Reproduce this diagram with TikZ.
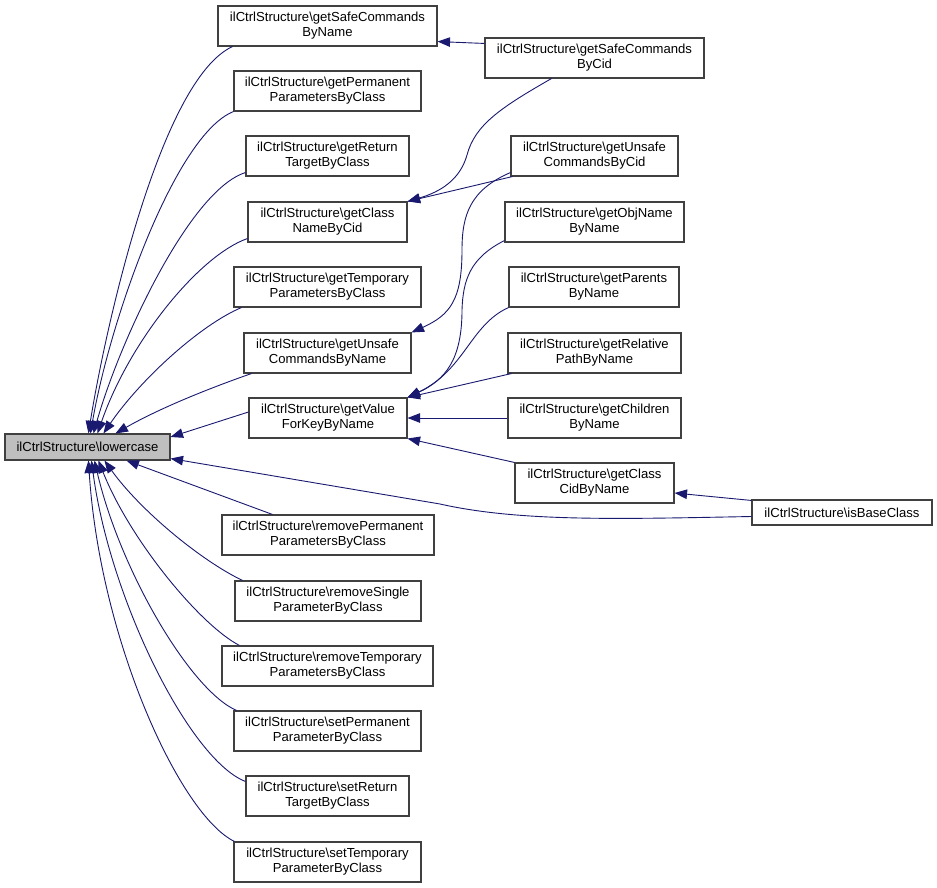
\documentclass[tikz,border=0pt]{standalone}
\usepackage{fontspec}
\setmainfont{Liberation Sans}
\usetikzlibrary{arrows.meta}
\definecolor{edgeblue}{HTML}{191970}
\definecolor{boxline}{HTML}{404040}
\definecolor{hlfill}{HTML}{BFBFBF}
\begin{document}
\begin{tikzpicture}[x=1pt,y=-1pt,
  box/.style={draw=boxline, line width=1.1pt, fill=white, rectangle, inner sep=0pt,
    align=center, minimum height=40pt, font=\fontsize{13.1pt}{15pt}\selectfont},
  onebox/.style={box, minimum height=26pt},
  edge/.style={draw=edgeblue, line width=0.9pt, -{Triangle[length=12.5pt,width=9.5pt]}, fill=none}]
\useasboundingbox (0,0) rectangle (937,888);
\fill[white] (0,0) rectangle (937,888);
% nodes
\node[onebox, fill=hlfill, minimum width=165pt, minimum height=26pt] (lc) at (87.5,447) {ilCtrlStructure\textbackslash lowercase};
\node[box, minimum width=219pt] (safeName) at (327.5,26) {ilCtrlStructure\textbackslash getSafeCommands\\ByName};
\node[box, minimum width=187pt] (permName) at (327.5,91) {ilCtrlStructure\textbackslash getPermanent\\ParametersByClass};
\node[box, minimum width=163pt] (retName) at (327.5,156) {ilCtrlStructure\textbackslash getReturn\\TargetByClass};
\node[box, minimum width=159pt] (classNameCid) at (327.5,222) {ilCtrlStructure\textbackslash getClass\\NameByCid};
\node[box, minimum width=187pt] (tempName) at (327.5,287) {ilCtrlStructure\textbackslash getTemporary\\ParametersByClass};
\node[box, minimum width=167pt] (unsafeName) at (327.5,353) {ilCtrlStructure\textbackslash getUnsafe\\CommandsByName};
\node[box, minimum width=158pt] (valueKey) at (328,418) {ilCtrlStructure\textbackslash getValue\\ForKeyByName};
\node[box, minimum width=212pt] (remPerm) at (328,535) {ilCtrlStructure\textbackslash removePermanent\\ParametersByClass};
\node[box, minimum width=186pt] (remSingle) at (328,601) {ilCtrlStructure\textbackslash removeSingle\\ParameterByClass};
\node[box, minimum width=211pt] (remTemp) at (327.5,666) {ilCtrlStructure\textbackslash removeTemporary\\ParametersByClass};
\node[box, minimum width=187pt] (setPerm) at (327.5,731) {ilCtrlStructure\textbackslash setPermanent\\ParameterByClass};
\node[box, minimum width=163pt] (setRet) at (327.5,796) {ilCtrlStructure\textbackslash setReturn\\TargetByClass};
\node[box, minimum width=187pt] (setTemp) at (327.5,862) {ilCtrlStructure\textbackslash setTemporary\\ParameterByClass};
\node[box, minimum width=219pt] (safeCid) at (594.5,58) {ilCtrlStructure\textbackslash getSafeCommands\\ByCid};
\node[box, minimum width=167pt] (unsafeCid) at (594.5,156) {ilCtrlStructure\textbackslash getUnsafe\\CommandsByCid};
\node[box, minimum width=179pt] (objName) at (594.5,222) {ilCtrlStructure\textbackslash getObjName\\ByName};
\node[box, minimum width=170pt] (parents) at (594,287) {ilCtrlStructure\textbackslash getParents\\ByName};
\node[box, minimum width=173pt] (relPath) at (594.5,353) {ilCtrlStructure\textbackslash getRelative\\PathByName};
\node[box, minimum width=173pt] (children) at (594.5,418) {ilCtrlStructure\textbackslash getChildren\\ByName};
\node[box, minimum width=159pt] (classCid) at (594.5,483) {ilCtrlStructure\textbackslash getClass\\CidByName};
\node[onebox, minimum width=180pt, minimum height=25pt] (isBase) at (842,512.5) {ilCtrlStructure\textbackslash isBaseClass};
% edges into lowercase (top)
\draw[edge] ([xshift=15pt]safeName.south west) .. controls (160,80) and (105,330) .. ([xshift=84pt]lc.north west);
\draw[edge] (permName.south west) .. controls (175,135) and (110,320) .. ([xshift=86pt]lc.north west);
\draw[edge] ([yshift=4pt]retName.south west) .. controls (190,190) and (120,340) .. ([xshift=89pt]lc.north west);
\draw[edge] ([yshift=4pt]classNameCid.south west) .. controls (200,255) and (130,340) .. ([xshift=93pt]lc.north west);
\draw[edge] ([xshift=8pt]tempName.south west) .. controls (200,325) and (140,380) .. ([xshift=99pt]lc.north west);
\draw[edge] ([xshift=8pt]unsafeName.south west) .. controls (210,388) and (160,408) .. ([xshift=111pt]lc.north west);
\draw[edge] ([yshift=6pt]valueKey.west) -- ([yshift=10pt]lc.east);
% edges into lowercase (bottom)
\draw[edge] ([xshift=51pt]remPerm.north west) -- ([xshift=122pt]lc.south west);
\draw[edge] ([xshift=8pt]remSingle.north west) .. controls (200,560) and (140,510) .. ([xshift=100pt]lc.south west);
\draw[edge] ([xshift=18pt]remTemp.north west) .. controls (200,625) and (130,540) .. ([xshift=94pt]lc.south west);
\draw[edge] ([xshift=3pt]setPerm.north west) .. controls (190,690) and (120,570) .. ([xshift=90pt]lc.south west);
\draw[edge] ([yshift=-6pt]setRet.north west) .. controls (190,760) and (110,600) .. ([xshift=87pt]lc.south west);
\draw[edge] ([xshift=1pt]setTemp.north west) .. controls (180,815) and (100,640) .. ([xshift=84pt]lc.south west);
\draw[edge] ([yshift=-4pt]isBase.west) .. controls (620,519) and (520,522) .. (440,504) -- ([yshift=2pt]lc.south east);
% right side edges
\draw[edge] ([yshift=-6pt]safeCid.north west) -- ([yshift=5pt]safeName.south east);
\draw[edge] ([xshift=67pt]safeCid.south west) .. controls (500,108) and (475,125) .. (467,155) .. controls (460,180) and (440,192) .. (classNameCid.north east);
\draw[edge] ([xshift=2pt]unsafeCid.south west) -- (classNameCid.north east);
\draw[edge] ([yshift=4pt]unsafeCid.south west) .. controls (470,190) and (462,215) .. (462,250) .. controls (462,300) and (450,315) .. (unsafeName.north east);
\draw[edge] ([yshift=2pt]objName.south west) .. controls (470,258) and (463,280) .. (462,310) .. controls (462,360) and (445,380) .. (valueKey.north east);
\draw[edge] (parents.south west) .. controls (470,325) and (465,370) .. (valueKey.north east);
\draw[edge] ([xshift=4pt]relPath.south west) -- (valueKey.north east);
\draw[edge] (children.west) -- (valueKey.east);
\draw[edge] (classCid.north west) -- (valueKey.south east);
\draw[edge] ([yshift=-1pt]isBase.north west) -- ([yshift=-10pt]classCid.east);
\end{tikzpicture}
\end{document}
